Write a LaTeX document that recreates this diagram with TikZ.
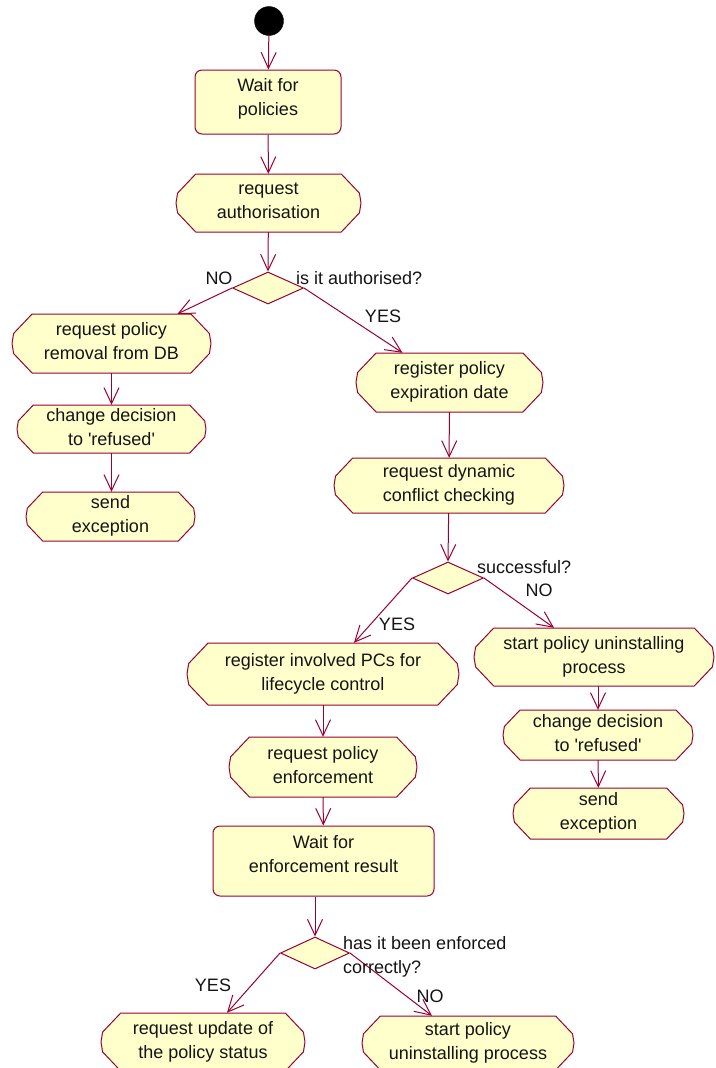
\documentclass[tikz,border=0pt]{standalone}
\usepackage{fontspec}
\setmainfont{Liberation Sans}[Ligatures=TeXOff]
\usetikzlibrary{shapes.geometric,arrows.meta}

\definecolor{umlline}{RGB}{153,0,51}
\definecolor{umlfill}{RGB}{255,255,204}
\definecolor{umltext}{RGB}{20,20,20}

\tikzset{
  x=1pt, y=-1pt,
  every node/.style={font=\fontsize{18}{24}\selectfont, text=umltext},
  actline/.style={draw=umlline, fill=umlfill, line width=1pt, line join=round},
  acttext/.style={align=center, inner sep=0pt, text depth=5pt},
  waitbox/.style={draw=umlline, fill=umlfill, line width=1pt, rounded corners=7pt,
                  align=center, inner sep=0pt},
  choice/.style={diamond, draw=umlline, fill=umlfill, line width=1pt, inner sep=0pt,
                 minimum width=71pt, minimum height=32pt},
  flow/.style={draw=umlline, line width=1pt,
               -{Straight Barb[length=16pt,width=15pt,line width=1pt]}},
  guard/.style={inner sep=0pt, anchor=center},
  question/.style={inner sep=0pt, anchor=west, align=left},
}

% activity state: flat top and bottom, faceted round ends
% #1 name, #2 left, #3 top, #4 right, #5 bottom, #6 text
\newcommand\activity[6]{%
  \pgfmathsetmacro\acH{#5-#3}%
  \pgfmathsetmacro\acC{0.34*\acH}%
  \pgfmathsetmacro\acM{(#3+#5)/2}%
  \path[actline] ({#2+\acC},#3) -- ({#4-\acC},#3)
    -- ({#4-0.08*\acC},{#3+0.33*\acH}) -- (#4,\acM)
    -- ({#4-0.08*\acC},{#5-0.33*\acH}) -- ({#4-\acC},#5)
    -- ({#2+\acC},#5) -- ({#2+0.08*\acC},{#5-0.33*\acH})
    -- (#2,\acM) -- ({#2+0.08*\acC},{#3+0.33*\acH}) -- cycle;
  \node[acttext, minimum width={#4-#2}, minimum height=\acH]
    (#1) at ({(#2+#4)/2},\acM) {#6};
}

\begin{document}
\begin{tikzpicture}
\useasboundingbox (0,0) rectangle (715,1068);

% initial state
\node[circle, fill=black, draw=black, minimum size=29pt, inner sep=0pt] (start) at (269,21) {};

% main column
\node[waitbox, minimum width=146pt, minimum height=64pt, text depth=10pt] (wait1) at (268,102) {Wait for\\policies};
\activity{reqauth}{176}{174}{361}{232}{request\\authorisation}
\node[choice] (dec1) at (268,288) {};

% refused branch
\activity{reqremove}{12}{314}{211}{373}{request policy\\removal from DB}
\activity{change1}{17}{405}{206}{453}{change decision\\to 'refused'}
\activity{send1}{26}{492}{195}{541}{send\\exception}

% authorised branch
\activity{regexp}{356}{353}{543}{412}{register policy\\expiration date}
\activity{reqdyn}{334}{458}{564}{513}{request dynamic\\conflict checking}
\node[choice] (dec2) at (448,578) {};

% conflict branch
\activity{uninst1}{474}{628}{714}{686}{start policy uninstalling\\process}
\activity{change2}{503}{710}{693}{760}{change decision\\to 'refused'}
\activity{send2}{513}{788}{684}{839}{send\\exception}

% enforcement branch
\activity{regpcs}{187}{643}{459}{705}{register involved PCs for\\lifecycle control}
\activity{reqenf}{229}{737}{417}{797}{request policy\\enforcement}
\node[waitbox, minimum width=221pt, minimum height=70pt, text depth=15pt] (wait2) at (323.5,861) {Wait for\\enforcement result};
\node[choice, minimum width=69pt] (dec3) at (315,953) {};

% results
\activity{requpd}{101}{1013}{305}{1071}{request update of\\the policy status}
\activity{uninst2}{362}{1016}{574}{1070}{start policy\\uninstalling process}

% transitions
\draw[flow] (start) -- (wait1);
\draw[flow] (wait1) -- (reqauth);
\draw[flow] (reqauth) -- (dec1.north);
\draw[flow] (dec1.west) -- ([xshift=66pt]reqremove.north);
\draw[flow] (dec1.east) -- ([xshift=-47pt]regexp.north);
\draw[flow] (reqremove) -- (change1);
\draw[flow] (change1.south) -- (change1.south |- send1.north);
\draw[flow] (regexp) -- (reqdyn);
\draw[flow] (reqdyn) -- (dec2.north);
\draw[flow] (dec2.west) -- ([xshift=31pt]regpcs.north);
\draw[flow] (dec2.east) -- ([xshift=-40pt]uninst1.north);
\draw[flow] (change2.north |- uninst1.south) -- (change2.north);
\draw[flow] (change2) -- (send2);
\draw[flow] (regpcs) -- (reqenf);
\draw[flow] (reqenf) -- (wait2);
\draw[flow] (dec3.north |- wait2.south) -- (dec3.north);
\draw[flow] (dec3.west) -- ([xshift=24pt]requpd.north);
\draw[flow] (dec3.east) -- ([xshift=-36pt]uninst2.north);

% guards and questions
\node[guard] (no1) at (219,278) {NO};
\node[question] (q1) at (296,278) {is it authorised?};
\node[guard] (yes1) at (383,316) {YES};
\node[question] (q2) at (477,567) {successful?};
\node[guard] (no2) at (539,590) {NO};
\node[guard] (yes2) at (397,624) {YES};
\node[question, anchor=north west] (q3) at (343,936) {has it been enforced\\correctly?};
\node[guard] (yes3) at (213,985) {YES};
\node[guard] (no3) at (430,996) {NO};
\end{tikzpicture}
\end{document}
